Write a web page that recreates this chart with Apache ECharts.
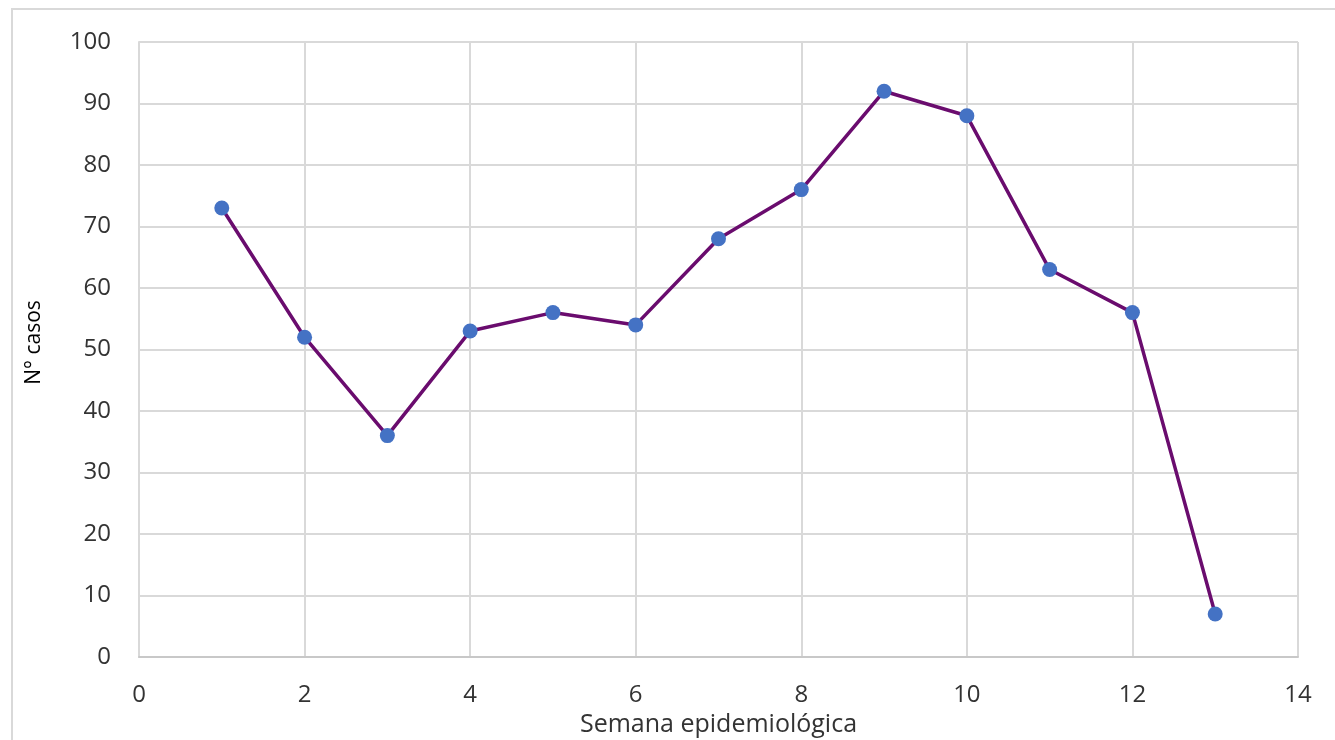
<!DOCTYPE html>
<html><head><meta charset="utf-8">
<script src="https://cdn.jsdelivr.net/npm/echarts@6/dist/echarts.min.js"></script>
<style>html,body{margin:0;padding:0;background:#fff}#c{width:1335px;height:740px}</style>
</head><body><div id="c"></div>
<script>
const weeks = [1,2,3,4,5,6,7,8,9,10,11,12,13];
const cases = [73,52,36,53,56,54,68,76,92,88,63,56,7];
const xAxisName = 'Semana epidemiológica';
const yAxisName = 'N° casos';

const chart = echarts.init(document.getElementById('c'));
const font = '"Open Sans", sans-serif';
chart.setOption({
  animation: false,
  graphic: [{
    type: 'rect', z: -1,
    shape: {x: 12, y: 9, width: 1400, height: 800},
    style: {fill: 'none', stroke: '#d9d9d9', lineWidth: 2}
  }],
  grid: {left: 139, right: 37, top: 42, bottom: 83, containLabel: false, outerBoundsMode: 'none'},
  xAxis: {
    type: 'value', min: 0, max: 14, interval: 2,
    name: xAxisName, nameLocation: 'middle', nameGap: 54,
    nameTextStyle: {fontFamily: font, fontSize: 25, color: '#333'},
    axisLine: {show: true, lineStyle: {color: '#c8c8c8', width: 2}},
    axisTick: {show: false},
    axisLabel: {fontFamily: font, fontSize: 24, color: '#333', margin: 26},
    splitLine: {show: true, lineStyle: {color: '#d9d9d9', width: 2}}
  },
  yAxis: {
    type: 'value', min: 0, max: 100, interval: 10,
    name: yAxisName, nameLocation: 'middle', nameGap: 94, nameRotate: 90,
    nameTextStyle: {fontFamily: font, fontSize: 21, color: '#000', padding: [0, 0, 0, 14]},
    axisLine: {show: true, lineStyle: {color: '#d9d9d9', width: 2}},
    axisTick: {show: false},
    axisLabel: {fontFamily: font, fontSize: 24, color: '#333', margin: 28},
    splitLine: {show: true, lineStyle: {color: '#d9d9d9', width: 2}}
  },
  series: [{
    type: 'line',
    data: weeks.map((w, i) => [w, cases[i]]),
    symbol: 'circle', symbolSize: 15,
    lineStyle: {color: '#6a0c6e', width: 3.5},
    itemStyle: {color: '#4472c4'}
  }]
});
</script></body></html>
